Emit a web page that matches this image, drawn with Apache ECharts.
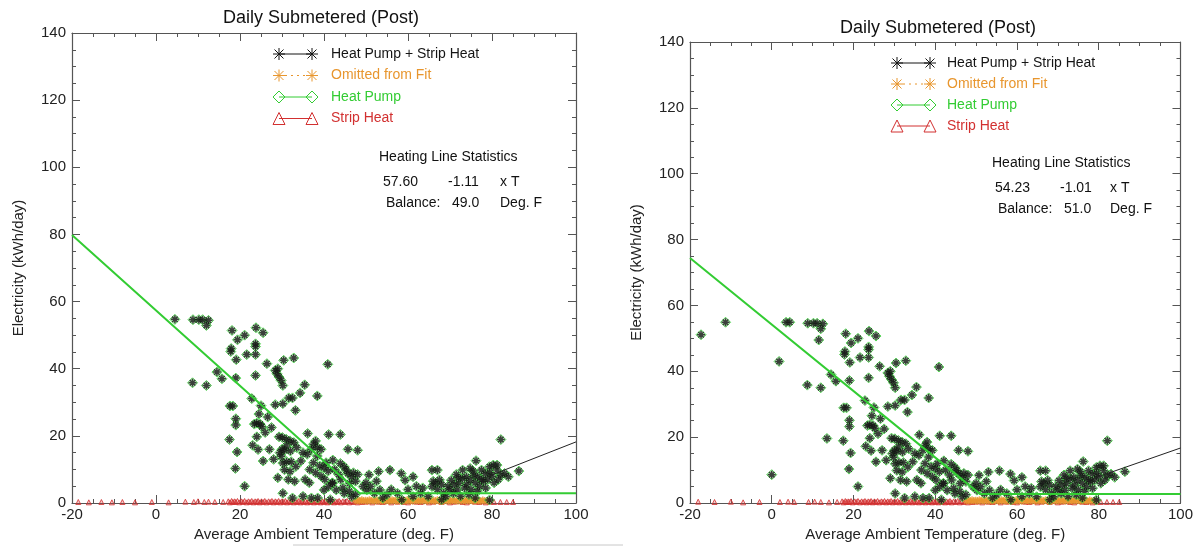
<!DOCTYPE html>
<html><head><meta charset="utf-8">
<script src="https://cdn.jsdelivr.net/npm/echarts@6/dist/echarts.min.js"></script>
<style>html,body{margin:0;padding:0;background:#fff}#c{width:1196px;height:550px}</style>
</head><body><div id="c"></div>
<script>
// ---------- DATA ----------
const chartTitle = 'Daily Submetered (Post)';
const xName = 'Average Ambient Temperature (deg. F)';
const yName = 'Electricity (kWh/day)';
const xMin = -20, xMax = 100, yMin = 0, yMax = 140, tickStep = 20;
const legendNames = ['Heat Pump + Strip Heat', 'Omitted from Fit', 'Heat Pump', 'Strip Heat'];

// daily points (temperature, kWh/day) shared by both panels
const commonPoints = [
[8.8,54.6],[10.2,54.6],[11.1,54.6],[12.5,54.4],[12.0,52.9],[8.7,35.8],[12.0,35.0],[14.5,39.0],[15.7,37.0],
[18.1,51.4],[17.8,45.1],[17.9,46.0],[19.4,48.6],[21.1,50.0],[19.1,42.7],[19.0,37.2],
[17.6,28.9],[18.3,28.9],[19.0,25.1],[19.0,23.2],[17.5,18.9],[19.3,15.2],[18.9,10.3],[21.1,5.0],
[21.6,44.2],[23.7,44.2],[23.7,47.4],[23.7,46.6],[23.8,52.2],[25.5,50.7],[23.7,38.0],[22.8,31.1],[26.4,41.5],
[28.4,39.5],[28.8,38.5],[29.3,37.5],[29.8,36.5],[30.2,35.0],[29.0,40.0],[30.4,42.5],[32.8,43.2],
[28.4,29.3],[30.2,29.6],[31.6,31.3],[32.5,31.3],[33.2,27.6],[34.3,32.8],[35.4,35.2],[38.4,31.9],[40.9,41.3],
[23.4,23.5],[24.0,23.8],[24.8,23.5],[24.0,19.7],[25.2,22.7],[26.6,25.6],[25.5,12.5],[24.3,15.9],[23.0,17.2],
[25.0,29.0],[24.5,26.5],[26.0,21.0],[27.5,22.5],[28.0,13.0],[27.0,16.0],
[29.3,19.7],[30.1,19.5],[31.0,19.0],[31.9,18.5],[32.8,18.0],[31.0,17.0],[30.0,16.0],[32.0,15.5],[33.5,16.5],[29.5,15.0],
[30.6,15.7],[29.8,13.9],[30.2,11.9],[30.6,9.9],[31.9,9.4],[33.3,10.9],[31.1,12.3],[32.2,12.3],[30.2,2.9],
[29.0,7.5],[31.5,7.0],[33.0,6.5],[32.5,1.5],
[36.1,20.7],[41.1,20.4],[43.9,20.4],[37.5,17.5],[38.4,16.5],[39.3,16.0],[38.4,14.0],[37.5,12.0],[36.6,10.0],
[38.0,9.0],[39.3,8.0],[40.2,7.0],[35.0,15.0],[36.0,14.5],[34.5,12.5],[35.5,7.0],[36.5,6.0],[37.0,16.0],
[38.0,18.5],[39.0,11.0],[40.0,10.5],[41.0,9.5],[40.5,12.0],
[42.1,12.8],[43.9,11.8],[44.8,10.8],[45.3,9.8],[45.7,8.8],[46.6,7.8],[46.1,5.9],[45.7,16.0],[48.0,15.7],
[42.5,10.0],[43.5,8.5],[44.0,7.0],[42.0,6.0],[47.0,9.0],[48.0,8.5],[47.5,6.5],[44.5,4.5],
[40.0,3.9],[41.1,4.9],[42.0,5.9],[42.9,3.9],[44.8,2.9],[46.6,1.9],[38.5,1.5],[41.5,1.0],[35.0,2.0],[37.0,1.5],
[46.0,3.5],[47.5,2.5],
[50.7,8.4],[53.0,9.4],[49.3,4.9],[50.2,3.9],[51.1,4.9],[52.0,2.9],[53.3,3.9],[54.0,1.5],[55.0,2.5],[56.0,4.0],
[50.0,6.0],[52.5,6.5],
[55.7,9.8],[58.4,8.8],[61.2,7.8],[59.3,6.8],[57.5,2.9],[61.2,1.9],[63.0,2.9],[64.8,1.9],[60.0,4.0],[62.0,5.0],
[58.5,1.0],[63.5,4.5],
[65.7,4.9],[66.6,5.9],[67.5,6.9],[65.7,9.8],[67.0,9.8],[66.0,6.5],[67.0,4.0],[68.0,5.5],[68.5,3.0],
[69.0,1.9],[70.8,2.9],[71.7,3.9],[73.0,9.8],[74.8,10.3],[76.2,12.6],
[70.3,6.8],[72.1,5.9],[73.0,7.3],[73.9,7.8],[74.8,6.8],[75.7,8.3],[76.6,7.8],[77.5,9.8],[78.4,8.8],[79.4,10.8],
[80.3,11.3],[81.2,11.3],[81.2,9.8],[82.1,8.3],[83.0,8.8],
[69.5,5.0],[70.0,4.0],[71.0,5.5],[72.0,7.5],[73.5,4.5],[74.0,5.5],[75.0,4.0],[76.0,6.0],[77.0,5.0],[78.0,6.5],
[79.0,7.0],[80.0,8.0],[76.5,3.5],[78.5,4.5],[74.5,2.5],[72.5,2.0],[80.5,6.0],[81.5,7.0],[79.5,9.0],[77.5,7.0],
[75.5,9.5],[71.5,8.5],
[82.1,18.9],[83.9,7.8],[86.4,9.5],[79.4,0.9],[76.0,1.5],[68.0,1.0]
];
const leftOnlyPoints = [[4.5,54.7]];
const rightOnlyPoints = [[-17.3,51.1],[-11.3,54.9],[0.0,8.6],[1.8,43.0],[3.5,54.9],[4.4,54.9],[13.5,19.6],[11.5,49.5]];

// strip heat (near zero)
const stripCommon = [
[16.0,0.3],[17.2,0.5],[17.6,0.2],[18.0,0.6],[18.3,0.3],[18.7,0.5],[19.0,0.3],[19.4,0.6],[19.8,0.2],[20.3,0.5],
[20.7,0.3],[21.1,0.6],[21.6,0.2],[22.0,0.5],[22.4,0.3],[22.8,0.6],[23.2,0.2],[23.6,0.5],[24.0,0.3],[24.3,0.6],
[24.7,0.2],[25.1,0.5],[25.5,0.3],[25.9,0.6],[26.3,0.2],[26.8,0.5],[27.2,0.3],[27.6,0.6],[28.0,0.2],[28.4,0.5],
[28.8,0.3],[29.2,0.6],[29.6,0.2],[30.0,0.5],[30.4,0.3],[30.8,0.6],[31.2,0.2],[31.6,0.5],[32.0,0.3],[32.4,0.6],
[32.8,0.2],[33.2,0.5],[33.6,0.3],[34.0,0.6],[34.4,0.2],[34.8,0.5],[35.2,0.3],[35.6,0.6],[36.0,0.2],[36.4,0.5],
[36.8,0.3],[37.2,0.6],[37.6,0.2],[38.0,0.5],[38.4,0.3],[38.8,0.6],[39.2,0.2],[39.6,0.5],[40.0,0.3],[40.4,0.6],
[40.8,0.2],[41.2,0.5],[41.6,0.3],[42.0,0.6],[42.4,0.2],[42.8,0.5],[43.2,0.3],[43.6,0.6],[44.0,0.2],[44.5,0.5],
[45.0,0.3],[45.5,0.6],[46.0,0.2],[46.5,0.5],[47.0,0.3],[47.5,0.6],[48.0,0.2],[48.5,0.5],[49.0,0.3],[50.0,0.4],
[51.5,0.2],[53.0,0.4],[54.0,0.3],[56.0,0.2],[57.5,0.4],[59.0,0.3],[60.0,0.2],[62.0,0.4],[63.0,0.3],[65.0,0.2],
[66.0,0.4],[68.0,0.3],[70.0,0.2],[71.0,0.4],[73.0,0.3],[74.0,0.2],[76.0,0.4],[77.0,0.3],[78.5,0.2],[79.5,0.4],
[80.5,0.3],[82.0,0.3],[83.5,0.3],[85.0,0.3]
];
const stripLeftOnly = [[-18.5,0.3],[-16.0,0.2],[-13.0,0.3],[-10.5,0.2],[-8.0,0.3],[-5.0,0.2],[-1.0,0.3],[3.0,0.2],[7.0,0.4],[9.0,0.3],[10.0,0.5],[11.5,0.3],[12.5,0.4],[14.0,0.3]];
const stripRightOnly = [[-18.0,0.4],[-14.0,0.3],[-10.0,0.4],[-7.0,0.2],[-3.0,0.3],[2.0,0.3],[4.0,0.4],[5.5,0.3],[9.0,0.3],[10.5,0.4],[12.0,0.3],[14.0,0.2]];

// omitted from fit (near zero, warm days)
const omitted = [
[47.6,0.6],[48.1,0.9],[48.5,0.5],[49.0,1.0],[49.4,0.6],[49.9,0.8],[50.3,0.5],[50.8,1.0],[51.2,0.6],[51.7,0.8],
[52.1,0.5],[52.6,1.0],[53.0,0.6],[53.5,0.8],[53.9,0.5],[54.4,1.0],[54.8,0.6],[55.3,0.8],[55.7,0.5],[56.2,1.0],
[56.6,0.6],[57.1,0.8],[57.5,0.5],[58.0,1.0],[58.4,0.6],[58.9,0.8],[59.3,0.5],[59.8,1.0],[60.2,0.6],[60.7,0.8],
[61.1,0.5],[61.6,1.0],[62.0,0.6],[62.5,0.8],[62.9,0.5],[63.4,1.0],[63.8,0.6],[64.3,0.8],[64.7,0.5],[65.2,1.0],
[65.6,0.6],[66.1,0.8],[66.5,0.5],[67.0,1.0],[67.4,0.6],[67.9,0.8],[68.3,0.5],[68.8,1.0],[69.2,0.6],[69.7,0.8],
[70.1,0.5],[70.6,1.0],[71.0,0.6],[71.5,0.8],[71.9,0.5],[72.4,1.0],[72.8,0.6],[73.3,0.8],[73.7,0.5],[74.2,1.0],
[74.6,0.6],[75.1,0.8],[75.5,0.5],[76.0,1.0],[76.4,0.6],[76.9,0.8],[77.3,0.5],[77.8,0.9],[78.3,0.6],[78.9,0.7]
];

// fit lines
const heatLineLeft = [[-20,79.8],[48.5,2.9],[100,2.9]];
const coolLineLeft = [[77.0,6.9],[100,18.2]];
const heatLineRight = [[-20,74.4],[51.0,2.7],[100,2.7]];
const coolLineRight = [[77.4,6.9],[100,16.7]];

const statsLeft = ['Heating Line Statistics', '57.60', '-1.11', 'x T', 'Balance:', '49.0', 'Deg. F'];
const statsRight = ['Heating Line Statistics', '54.23', '-1.01', 'x T', 'Balance:', '51.0', 'Deg. F'];

// ---------- STYLE ----------
const FONT = 'Liberation Sans, Arial, Helvetica, sans-serif';
const C_BLACK = '#151515', C_ORANGE = '#e8962e', C_GREEN = '#33cc33', C_RED = '#d23030', C_AXIS = '#555';
const ASTER = 'path://M0,5L10,5M5,0L5,10M1.6,1.6L8.4,8.4M8.4,1.6L1.6,8.4';

const panels = [
  {grid:{left:72, top:33, width:504, height:470}, title:{left:223, top:9},
   points: leftOnlyPoints.concat(commonPoints), strip: stripLeftOnly.concat(stripCommon),
   heat: heatLineLeft, cool: coolLineLeft, stats: statsLeft,
   legend:{s1:279, s2:312, tx:331, y0:54, dy:21.5}, statPos:{x:379, y:157, c1:383, c2:448, c3:500, c1b:386, c2b:452}},
  {grid:{left:690, top:42, width:493, height:461}, title:{left:840, top:19},
   points: rightOnlyPoints.concat(commonPoints), strip: stripRightOnly.concat(stripCommon),
   heat: heatLineRight, cool: coolLineRight, stats: statsRight,
   legend:{s1:897, s2:930, tx:947, y0:63, dy:21}, statPos:{x:992, y:163, c1:995, c2:1060, c3:1110, c1b:998, c2b:1064}}
];

function axisBase(gi, isX, pos, labels) {
  const a = {
    gridIndex: gi, type: 'value', position: pos,
    min: isX ? xMin : yMin, max: isX ? xMax : yMax, interval: tickStep,
    axisLine: {show: true, onZero: false, lineStyle: {color: C_AXIS, width: 1.2}},
    axisTick: {show: true, inside: true, length: 8, lineStyle: {color: C_AXIS}},
    minorTick: {show: true, splitNumber: 4, length: 4, lineStyle: {color: C_AXIS}},
    splitLine: {show: false}, minorSplitLine: {show: false},
    axisLabel: {show: labels, color: '#222', fontSize: 15, fontFamily: FONT, margin: isX ? 4 : 6}
  };
  if (labels) {
    a.name = isX ? xName : yName;
    a.nameLocation = 'middle';
    a.nameGap = isX ? 24 : 46;
    a.nameTextStyle = {color: '#222', fontSize: 15, fontFamily: FONT};
  }
  return a;
}

const grids = [], xAxes = [], yAxes = [], series = [], titles = [], graphics = [];
panels.forEach((p, gi) => {
  grids.push(p.grid);
  titles.push({text: chartTitle, left: p.title.left, top: p.title.top, padding: 0,
    textStyle: {fontSize: 18, fontWeight: 'normal', color: '#111', fontFamily: FONT}});
  xAxes.push(axisBase(gi, true, 'bottom', true));
  xAxes.push(axisBase(gi, true, 'top', false));
  yAxes.push(axisBase(gi, false, 'left', true));
  yAxes.push(axisBase(gi, false, 'right', false));
  const xi = gi * 2, yi = gi * 2;
  series.push({type: 'scatter', name: legendNames[3], xAxisIndex: xi, yAxisIndex: yi, data: p.strip,
    symbol: 'triangle', symbolSize: 5, silent: true,
    itemStyle: {color: 'rgba(220,60,60,0.35)', borderColor: C_RED, borderWidth: 1}, z: 2});
  series.push({type: 'scatter', name: legendNames[1], xAxisIndex: xi, yAxisIndex: yi, data: omitted,
    symbol: ASTER, symbolSize: 7, silent: true,
    itemStyle: {color: 'rgba(0,0,0,0)', borderColor: C_ORANGE, borderWidth: 1.5}, z: 3});
  series.push({type: 'scatter', name: legendNames[2], xAxisIndex: xi, yAxisIndex: yi, data: p.points,
    symbol: 'diamond', symbolSize: 10, silent: true,
    itemStyle: {color: 'rgba(110,190,110,0.45)', borderColor: C_GREEN, borderWidth: 1}, z: 4});
  series.push({type: 'scatter', name: legendNames[0], xAxisIndex: xi, yAxisIndex: yi, data: p.points,
    symbol: ASTER, symbolSize: 8, silent: true,
    itemStyle: {color: 'rgba(0,0,0,0)', borderColor: C_BLACK, borderWidth: 1.5}, z: 5});
  series.push({type: 'line', xAxisIndex: xi, yAxisIndex: yi, data: p.heat, showSymbol: false, silent: true,
    lineStyle: {color: C_GREEN, width: 2}, z: 6});
  series.push({type: 'line', xAxisIndex: xi, yAxisIndex: yi, data: p.cool, showSymbol: false, silent: true,
    lineStyle: {color: '#222', width: 1}, z: 6});

  // legend (IDL style: symbol - line - symbol)
  const L = p.legend;
  const colors = [C_BLACK, C_ORANGE, C_GREEN, C_RED];
  const kinds = ['aster', 'aster', 'diamond', 'triangle'];
  legendNames.forEach((nm, i) => {
    const y = L.y0 + i * L.dy, col = colors[i];
    graphics.push({type: 'line', shape: {x1: L.s1, y1: y, x2: L.s2, y2: y},
      style: {stroke: col, lineWidth: 1, lineDash: i === 1 ? [2, 4] : null}});
    [L.s1, L.s2].forEach(cx => {
      const r = 6;
      if (kinds[i] === 'aster') {
        [[-r,0,r,0],[0,-r,0,r],[-r*0.75,-r*0.75,r*0.75,r*0.75],[r*0.75,-r*0.75,-r*0.75,r*0.75]].forEach(s => {
          graphics.push({type: 'line', shape: {x1: cx+s[0], y1: y+s[1], x2: cx+s[2], y2: y+s[3]},
            style: {stroke: col, lineWidth: 1}});
        });
      } else if (kinds[i] === 'diamond') {
        graphics.push({type: 'polygon', shape: {points: [[cx-r,y],[cx,y-r],[cx+r,y],[cx,y+r]]},
          style: {fill: 'none', stroke: col, lineWidth: 1}});
      } else {
        graphics.push({type: 'polygon', shape: {points: [[cx-r,y+r],[cx,y-r],[cx+r,y+r]]},
          style: {fill: 'none', stroke: col, lineWidth: 1}});
      }
    });
    graphics.push({type: 'text', x: L.tx, y: y,
      style: {text: nm, fill: col, font: '14px ' + FONT, verticalAlign: 'middle'}});
  });
  // statistics block
  const S = p.statPos, st = p.stats;
  const txt = (t, x, y) => graphics.push({type: 'text', x: x, y: y,
    style: {text: t, fill: '#111', font: '14px ' + FONT, verticalAlign: 'middle'}});
  txt(st[0], S.x, S.y);
  txt(st[1], S.c1, S.y + 25); txt(st[2], S.c2, S.y + 25); txt(st[3], S.c3, S.y + 25);
  txt(st[4], S.c1b, S.y + 46); txt(st[5], S.c2b, S.y + 46); txt(st[6], S.c3, S.y + 46);
});
// thin scan border line under the panels
graphics.push({type: 'line', shape: {x1: 293, y1: 545, x2: 623, y2: 545}, style: {stroke: '#c8c8c8', lineWidth: 1}});

const chart = echarts.init(document.getElementById('c'), null, {renderer: 'canvas'});
chart.setOption({
  animation: false, backgroundColor: '#fff',
  title: titles, grid: grids, xAxis: xAxes, yAxis: yAxes, series: series, graphic: graphics
});
</script></body></html>
